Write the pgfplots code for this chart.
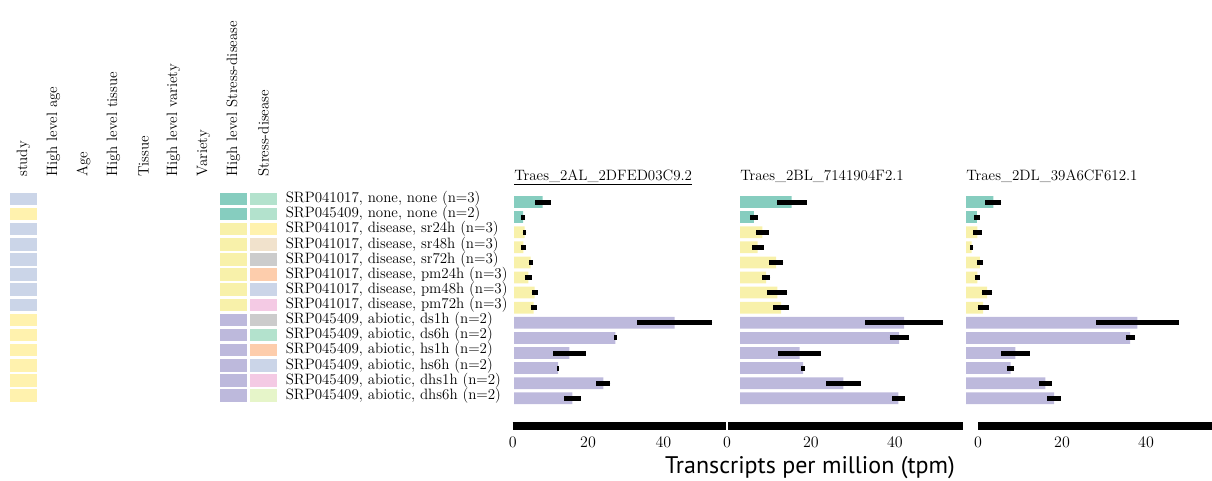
\documentclass[border=0pt]{standalone}
\usepackage{fontspec}
\usepackage{pgfplots}
\pgfplotsset{compat=1.18}
\newfontfamily\ptsans{PT Sans}
% Set3 (bars / high level) and Pastel2 (study / stress)
\definecolor{hlNone}{HTML}{86CDBF}
\definecolor{hlDis}{HTML}{F8F1AA}
\definecolor{hlAbi}{HTML}{BDB9DC}
\definecolor{pTeal}{HTML}{B3E2CD}
\definecolor{pOrange}{HTML}{FDCDAC}
\definecolor{pBlue}{HTML}{CBD5E8}
\definecolor{pPink}{HTML}{F4CAE4}
\definecolor{pGreen}{HTML}{E6F5C9}
\definecolor{pYellow}{HTML}{FFF2AE}
\definecolor{pBeige}{HTML}{F1E2CC}
\definecolor{pGray}{HTML}{CCCCCC}
\pgfplotsset{
  every axis/.append style={font=\fontsize{11.25}{13}\selectfont},
  annot/.style={only marks, mark=square*, mark size=4.3pt,
    mark options={xscale=2.35, line width=0pt}},
  barpanel/.style={scale only axis, anchor=north west, height=158.55pt,
    xmin=0, xmax=56, ymin=-0.5, ymax=13.5, y dir=reverse, hide axis, clip=false,
    title style={at={(0,1)}, anchor=base west, inner sep=0pt, yshift=4.2pt}},
  tpmbar/.style={xbar, draw=none, bar width=8.8pt, bar shift=0pt,
    error bars/x dir=both, error bars/x explicit, error bars/error mark=none,
    error bars/error bar style={line width=3.75pt, black}},
  scalebar/.style={scale only axis, anchor=north west, height=6pt,
    ymin=-1, ymax=1, clip=false, axis line style={draw=none},
    major tick length=0pt, ytick=\empty, xtick={0,20,40},
    xticklabel style={inner sep=2pt, font=\fontsize{12.5}{14}\selectfont},
    xticklabel shift=3pt},
}
\begin{document}
\begin{tikzpicture}
\path[use as bounding box] (0,0) rectangle (909pt,-360.75pt);

% ---------- annotation columns + row labels ----------
\begin{axis}[at={(7.5pt,-143.55pt)}, anchor=north west, scale only axis,
  width=200.25pt, height=158.8pt,
  xmin=-0.45, xmax=8.45, ymin=-0.5, ymax=13.5, y dir=reverse, clip=false,
  axis line style={draw=none}, major tick length=0pt,
  xtick={0,...,8},
  xticklabels={study, High level age, Age, High level tissue, Tissue,
    High level variety, Variety, High level Stress-disease, Stress-disease},
  xticklabel pos=upper,
  xticklabel style={rotate=90, anchor=west, inner sep=0pt},
  xticklabel shift=10.8pt,
  ytick={0,...,13},
  yticklabels={{SRP041017, none, none (n=3)},{SRP045409, none, none (n=2)},
    {SRP041017, disease, sr24h (n=3)},{SRP041017, disease, sr48h (n=3)},
    {SRP041017, disease, sr72h (n=3)},{SRP041017, disease, pm24h (n=3)},
    {SRP041017, disease, pm48h (n=3)},{SRP041017, disease, pm72h (n=3)},
    {SRP045409, abiotic, ds1h (n=2)},{SRP045409, abiotic, ds6h (n=2)},
    {SRP045409, abiotic, hs1h (n=2)},{SRP045409, abiotic, hs6h (n=2)},
    {SRP045409, abiotic, dhs1h (n=2)},{SRP045409, abiotic, dhs6h (n=2)}},
  yticklabel pos=right,
  yticklabel style={anchor=west, inner sep=0pt},
  yticklabel shift=6.4pt]
% study
\addplot[annot, color=pBlue] coordinates {(0,0) (0,2) (0,3) (0,4) (0,5) (0,6) (0,7)};
\addplot[annot, color=pYellow] coordinates {(0,1) (0,8) (0,9) (0,10) (0,11) (0,12) (0,13)};
% high level stress-disease
\addplot[annot, color=hlNone] coordinates {(7,0) (7,1)};
\addplot[annot, color=hlDis] coordinates {(7,2) (7,3) (7,4) (7,5) (7,6) (7,7)};
\addplot[annot, color=hlAbi] coordinates {(7,8) (7,9) (7,10) (7,11) (7,12) (7,13)};
% stress-disease
\addplot[annot, color=pTeal] coordinates {(8,0) (8,1) (8,9)};
\addplot[annot, color=pYellow] coordinates {(8,2)};
\addplot[annot, color=pBeige] coordinates {(8,3)};
\addplot[annot, color=pGray] coordinates {(8,4) (8,8)};
\addplot[annot, color=pOrange] coordinates {(8,5) (8,10)};
\addplot[annot, color=pBlue] coordinates {(8,6) (8,11)};
\addplot[annot, color=pPink] coordinates {(8,7) (8,12)};
\addplot[annot, color=pGreen] coordinates {(8,13)};
\end{axis}

% ---------- panel 1 ----------
\begin{axis}[barpanel, at={(385.5pt,-145.84pt)}, width=158.3pt,
  title={\underline{Traes\_2AL\_2DFED03C9.2}}]
\addplot[fill=hlNone, tpmbar] coordinates {(7.6,0) +- (2.1,0) (2.45,1) +- (0.5,0)};
\addplot[fill=hlDis, tpmbar] coordinates {(2.8,2) +- (0.5,0) (2.5,3) +- (0.6,0)
  (4.4,4) +- (0.55,0) (3.8,5) +- (0.95,0) (5.5,6) +- (0.85,0) (5.2,7) +- (0.8,0)};
\addplot[fill=hlAbi, tpmbar] coordinates {(42.6,8) +- (10.0,0) (26.9,9) +- (0.3,0)
  (14.7,10) +- (4.4,0) (11.7,11) +- (0.3,0) (23.7,12) +- (1.9,0) (15.5,13) +- (2.3,0)};
\end{axis}

% ---------- panel 2 ----------
\begin{axis}[barpanel, at={(555pt,-145.84pt)}, width=176.4pt,
  title={Traes\_2BL\_7141904F2.1}]
\addplot[fill=hlNone, tpmbar] coordinates {(12.3,0) +- (3.6,0) (3.3,1) +- (0.9,0)};
\addplot[fill=hlDis, tpmbar] coordinates {(5.3,2) +- (1.6,0) (4.2,3) +- (1.4,0)
  (8.6,4) +- (1.75,0) (6.2,5) +- (1.0,0) (8.9,6) +- (2.4,0) (9.8,7) +- (1.9,0)};
\addplot[fill=hlAbi, tpmbar] coordinates {(39.1,8) +- (9.3,0) (37.9,9) +- (2.3,0)
  (14.2,10) +- (5.1,0) (15.0,11) +- (0.5,0) (24.6,12) +- (4.1,0) (37.7,13) +- (1.5,0)};
\end{axis}

% ---------- panel 3 ----------
\begin{axis}[barpanel, at={(724.5pt,-145.84pt)}, width=176.4pt,
  title={Traes\_2DL\_39A6CF612.1}]
\addplot[fill=hlNone, tpmbar] coordinates {(6.5,0) +- (1.9,0) (2.6,1) +- (0.65,0)};
\addplot[fill=hlDis, tpmbar] coordinates {(2.7,2) +- (1.0,0) (1.35,3) +- (0.4,0)
  (3.3,4) +- (0.8,0) (2.7,5) +- (0.6,0) (5.0,6) +- (1.3,0) (4.1,7) +- (1.35,0)};
\addplot[fill=hlAbi, tpmbar] coordinates {(40.8,8) +- (9.9,0) (39.1,9) +- (1.1,0)
  (11.75,10) +- (3.45,0) (10.6,11) +- (0.9,0) (18.9,12) +- (1.5,0) (21.0,13) +- (1.6,0)};
\end{axis}

% ---------- scale bars ----------
\begin{axis}[scalebar, at={(384.5pt,-316.5pt)}, width=160pt, xmin=0, xmax=56.6]
\addplot[black, line width=6pt] coordinates {(0,0) (56.6,0)};
\end{axis}
\begin{axis}[scalebar, at={(545.25pt,-316.5pt)}, width=177pt, xmin=0, xmax=56.2]
\addplot[black, line width=6pt] coordinates {(0.25,0) (56.2,0)};
\end{axis}
\begin{axis}[scalebar, at={(733.5pt,-316.5pt)}, width=176.4pt, xmin=0, xmax=56]
\addplot[black, line width=6pt] coordinates {(0,0) (56,0)};
\end{axis}

\node[font=\ptsans\fontsize{18}{21}\selectfont, anchor=center] at (607.5pt,-350.5pt)
  {Transcripts per million (tpm)};
\end{tikzpicture}
\end{document}
